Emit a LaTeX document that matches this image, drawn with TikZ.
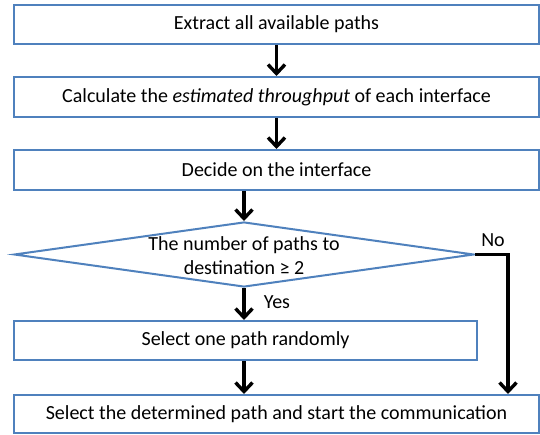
\documentclass[tikz,border=0pt]{standalone}
\usepackage{fontspec}
\setmainfont{Carlito}
\usetikzlibrary{shapes.geometric,arrows.meta}
\definecolor{boxblue}{RGB}{79,129,189}
\begin{document}
\begin{tikzpicture}[x=1pt,y=-1pt,
  font=\fontsize{20}{24}\selectfont,
  stepbox/.style={draw=boxblue, line width=2pt, fill=white, rectangle,
    minimum width=525pt, inner sep=0pt},
  decision/.style={draw=boxblue, line width=2pt, fill=white, diamond,
    inner sep=0pt},
  flow/.style={line width=3.4pt, black,
    -{Straight Barb[length=9pt,width=17pt,line width=3.4pt]}},
  tag/.style={inner sep=0pt}]
\useasboundingbox (0,0) rectangle (540,435);

% process boxes
\node[stepbox, minimum height=39pt] (extract) at (276.5,24.5) {Extract all available paths};
\node[stepbox, minimum height=40pt] (calc) at (276.5,97) {Calculate the \textit{estimated throughput} of each interface};
\node[stepbox, minimum height=40pt] (decide) at (276.5,170) {Decide on the interface};

% decision
\node[decision, minimum width=460pt, minimum height=65pt] (dia) at (244,254.5) {};
\node[tag, align=center] (diatext) at (244,256)
  {The number of paths to\\destination ≥ 2};

\node[stepbox, minimum width=463pt, minimum height=39pt] (random) at (245.5,340.5) {Select one path randomly};
\node[stepbox, minimum height=38pt] (start) at (276.5,414) {Select the determined path and start the communication};

% connectors
\draw[flow] (extract.south) -- (calc.north);
\draw[flow] (calc.south) -- (decide.north);
\draw[flow] (decide.south -| dia.north) -- (dia.north);
\draw[flow] (dia.south) -- (dia.south |- random.north);
\draw[flow] (dia.south |- random.south) -- (dia.south |- start.north);
\coordinate (nocorner) at (508,254.5);
\draw[flow] (dia.east) -- (nocorner) -- (nocorner |- start.north);

% branch labels
\node[tag] (yes) at (277,302) {Yes};
\node[tag] (no) at (493,240) {No};
\end{tikzpicture}
\end{document}
